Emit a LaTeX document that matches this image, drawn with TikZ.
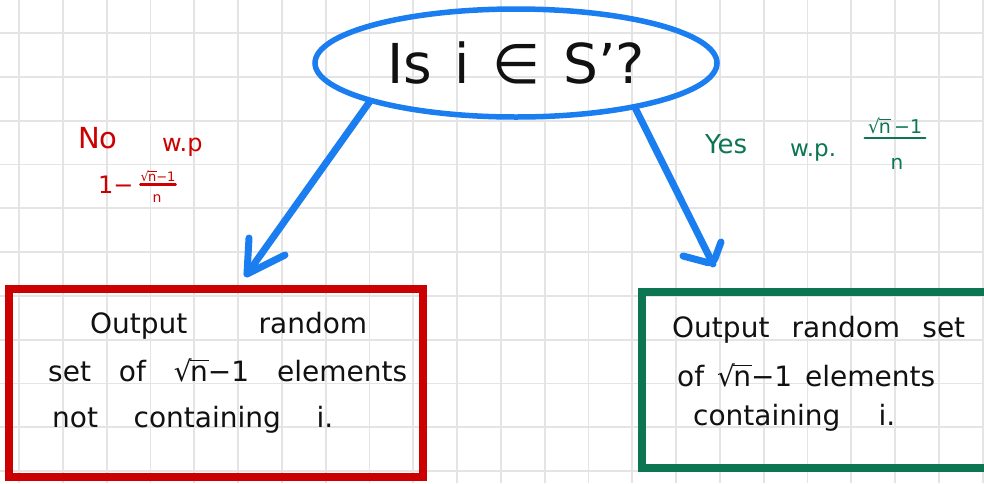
\documentclass[tikz,border=0pt]{standalone}
\usepackage{fontspec}
\setmainfont{DejaVu Sans}
\usetikzlibrary{shapes.geometric}
\definecolor{penblue}{RGB}{26,125,240}
\definecolor{penred}{RGB}{204,0,0}
\definecolor{pengreen}{RGB}{12,118,82}
\definecolor{gridgray}{RGB}{228,228,228}
\definecolor{ink}{RGB}{17,17,17}
\newcommand{\rootn}{√\kern-0.06em\rlap{\rule[0.70em]{0.66em}{0.065em}}n}
\begin{document}
\begin{tikzpicture}[x=1pt,y=-1pt,
  gridline/.style={draw=gridgray,line width=1.8pt},
  question/.style={ellipse,draw=penblue,line width=5.5pt,minimum width=402pt,minimum height=108pt,inner sep=0pt,text=ink,font=\fontsize{55}{60}\selectfont},
  outbox/.style={rectangle,line width=7.5pt,inner sep=0pt},
  pen/.style={draw=penblue,line width=7pt,line cap=round,line join=round},
  boxtext/.style={anchor=base west,inner sep=0pt,text=ink,text height=20pt,text depth=6pt,font=\fontsize{28}{32}\selectfont},
  lab/.style={anchor=base west,inner sep=0pt},
  fracpart/.style={anchor=center,inner sep=0pt},
  fracbar/.style={line width=2.5pt,line cap=round}
]
\useasboundingbox (0,0) rectangle (984,483);
\fill[white] (0,0) rectangle (984,483);
\foreach \k in {0,...,22} \draw[gridline] ({19+43.8*\k},0) -- ({19+43.8*\k},483);
\foreach \k in {1,...,11} \draw[gridline] (0,{-10.8+43.8*\k}) -- (984,{-10.8+43.8*\k});

% question
\node[question] (q) at (516,63) {\makebox[258pt][s]{Is i ∈ S’?}};

% boxes
\node[outbox,draw=penred,minimum width=414pt,minimum height=188pt] (rbox) at (216,383) {};
\node[outbox,draw=pengreen,minimum width=360pt,minimum height=176pt] (gbox) at (822,380) {};

% box texts
\node[boxtext] (r1) at (90,333) {\makebox[277pt][s]{Output random}};
\node[boxtext] (r2) at (48,381) {\makebox[359pt][s]{set of \rootn−1 elements}};
\node[boxtext] (r3) at (52,427) {\makebox[281pt][s]{not containing i.}};
\node[boxtext] (g1) at (672,337) {\makebox[293pt][s]{Output random set}};
\node[boxtext] (g2) at (677,386) {\makebox[258pt][s]{of \rootn−1 elements}};
\node[boxtext] (g3) at (693,425) {\makebox[202pt][s]{containing i.}};

% red label
\node[lab,text=penred,font=\fontsize{29}{32}\selectfont] (no) at (78,148) {No};
\node[lab,text=penred,font=\fontsize{24}{28}\selectfont] (rwp) at (162,151) {w.p};
\node[lab,text=penred,font=\fontsize{24}{28}\selectfont] (rone) at (98,193) {1−};
\node[fracpart,text=penred,font=\fontsize{13}{15}\selectfont] (rnum) at (158,176) {\rootn−1};
\node[fracpart,text=penred,font=\fontsize{14}{16}\selectfont] (rden) at (157,199) {n};
\draw[fracbar,draw=penred] ([yshift=-3pt]rnum.south west) -- ([yshift=-3pt]rnum.south east);

% green label
\node[lab,text=pengreen,font=\fontsize{26}{30}\selectfont] (yes) at (705,153) {Yes};
\node[lab,text=pengreen,font=\fontsize{23}{26}\selectfont] (gwp) at (790,156) {w.p.};
\node[fracpart,text=pengreen,font=\fontsize{19}{22}\selectfont] (gnum) at (895,126) {\rootn\,−1};
\node[fracpart,text=pengreen,font=\fontsize{20}{22}\selectfont] (gden) at (897,164) {n};
\draw[fracbar,draw=pengreen] ([yshift=-4pt,xshift=-3pt]gnum.south west) -- ([yshift=-4pt,xshift=3pt]gnum.south east);

% arrows
\coordinate (tipL) at (247,274);
\coordinate (tipR) at (713,264);
\draw[pen] (q.195) -- (tipL);
\draw[pen] (tipL) ++(2,-36) -- (tipL) -- ++(38,-19);
\draw[pen] (q.-21) -- (tipR);
\draw[pen,rounded corners=6pt] (tipR) ++(-30,-8) -- (tipR) -- ++(8,-22);
\end{tikzpicture}
\end{document}
